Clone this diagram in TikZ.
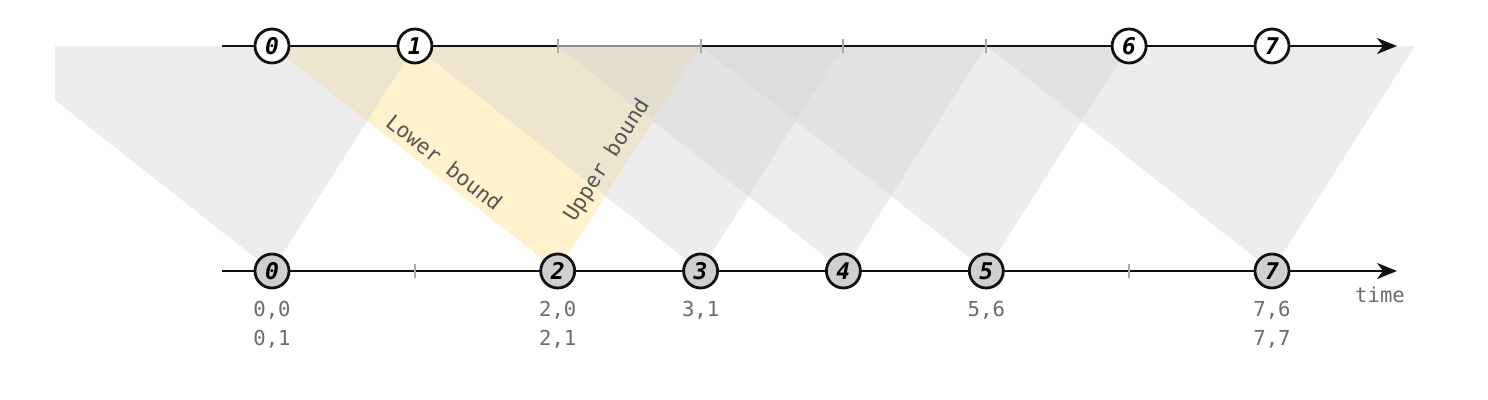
\documentclass[tikz,border=0pt]{standalone}
\usepackage{fontspec}
\setmonofont{DejaVu Sans Mono}[ItalicFont={DejaVu Sans Mono Oblique},
  BoldFont={DejaVu Sans Mono Bold},BoldItalicFont={DejaVu Sans Mono Bold Oblique}]
\usepackage{tikz}
\usetikzlibrary{positioning,arrows.meta,calc,backgrounds}
\definecolor{ink}     {HTML}{111111}
\definecolor{softink} {HTML}{6B6B6B}
\definecolor{bndink}  {HTML}{555555}
\definecolor{tickgray}{HTML}{A8A8A8}
\definecolor{cone}    {HTML}{D2D2D2}
\definecolor{butter}  {HTML}{FFF2CC}
\colorlet{recvfill}{black!19}
\tikzset{
  % --- nodes
  ev/.style  = {circle, draw=ink, line width=1.4pt, fill=white, minimum size=17pt,
                inner sep=0pt, font=\ttfamily\bfseries\itshape\fontsize{11.5}{12}\selectfont},
  rv/.style  = {ev, fill=recvfill},
  tk/.style  = {fill=tickgray, minimum width=1pt, minimum height=7pt, inner sep=0pt},
  val/.style = {font=\ttfamily\fontsize{10.3}{14.5}\selectfont, text=softink,
                align=center, inner sep=1pt},
  bnd/.style = {font=\ttfamily\fontsize{10.6}{12}\selectfont, text=bndink},
  % --- edges
  axis/.style   = {line width=1.2pt, draw=ink, -{Stealth[length=10pt,width=8pt,inset=3pt]}},
  window/.style = {fill=cone, fill opacity=0.4},
}

\begin{document}
\begin{tikzpicture}[x=0.5pt,y=-0.5pt]
  \useasboundingbox (0,0) rectangle (1488,400);
  \coordinate (ts) at (222,46);  \coordinate (te) at (1397,46);
  \coordinate (bs) at (222,271); \coordinate (be) at (1397,271);
  % sender
  \node[ev] (t0) at (272,46) {0};
  \node[ev] (t1) at (414.9,46) {1};
  \node[tk] (k2) at (557.7,46) {};
  \node[tk] (k3) at (700.6,46) {};
  \node[tk] (k4) at (843.4,46) {};
  \node[tk] (k5) at (986.3,46) {};
  \node[ev] (t6) at (1129.1,46) {6};
  \node[ev] (t7) at (1272,46) {7};
  % receiver
  \node[rv] (b0) at (272,271) {0};
  \node[tk] (j1) at (414.9,271) {};
  \node[rv] (b2) at (557.7,271) {2};
  \node[rv] (b3) at (700.6,271) {3};
  \node[rv] (b4) at (843.4,271) {4};
  \node[rv] (b5) at (986.3,271) {5};
  \node[tk] (j6) at (1129.1,271) {};
  \node[rv] (b7) at (1272,271) {7};
  \node[val, below=4.5pt of b0] (v0) {0,0\\0,1};
  \node[val, below=4.5pt of b2] (v2) {2,0\\2,1};
  \node[val, below=4.5pt of b3] (v3) {3,1};
  \node[val, below=4.5pt of b5] (v5) {5,6};
  \node[val, below=4.5pt of b7] (v7) {7,6\\7,7};
  \node[val, anchor=base] (tm) at (1380,303) {time};
  \path (t0.center) -- node[bnd, sloped, above, pos=0.57] {Lower bound} (b2.center);
  \path (b2.center) -- node[bnd, sloped, above, pos=0.45] {Upper bound} (k3.center);
  \begin{scope}[on background layer]
    \fill[butter] (t0.center) -- (k3.center) -- (b2.center) -- cycle;
    \begin{scope}
      \clip (55,0) rectangle (1488,400);
      \fill[window] (-13.7,46) -- (t1.center) -- (b0.center) -- cycle;
    \end{scope}
    \fill[window] (t1.center) -- (k4.center) -- (b3.center) -- cycle;
    \fill[window] (k2.center) -- (k5.center) -- (b4.center) -- cycle;
    \fill[window] (k3.center) -- (t6.center) -- (b5.center) -- cycle;
    \fill[window] (k5.center) -- (1414.9,46) -- (b7.center) -- cycle;
    \draw[axis] (ts) -- (te);
    \draw[axis] (bs) -- (be);
    \draw[line width=1.2pt, draw=black!45] (k2.center) -- (k3.center);
  \end{scope}
\end{tikzpicture}
\end{document}
